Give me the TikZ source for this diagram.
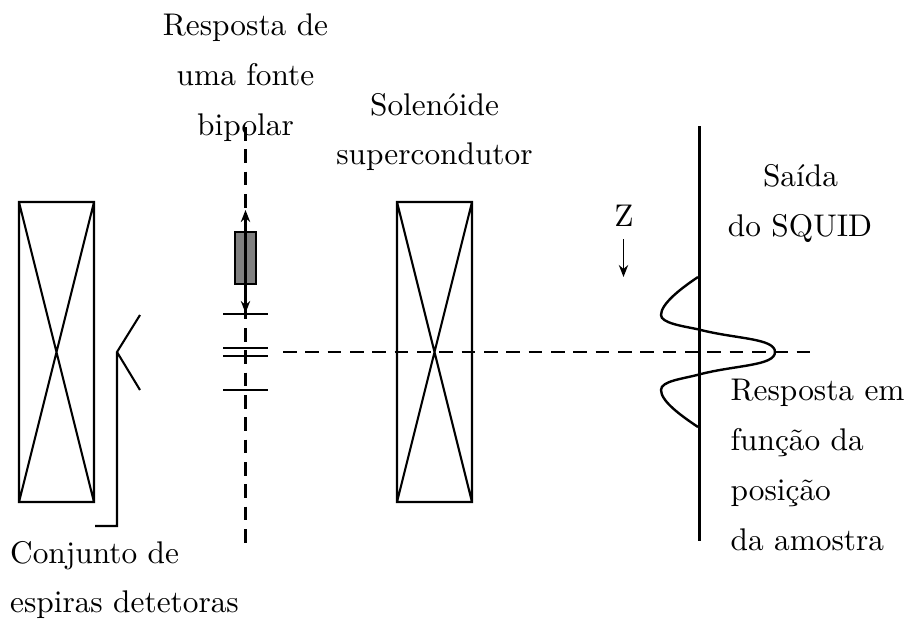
\documentclass[tikz,border=0pt]{standalone}
\usetikzlibrary{arrows.meta}
\tikzset{
  lab/.style={inner sep=0pt,anchor=base,scale=0.94},
  labl/.style={inner sep=0pt,anchor=base west,scale=0.94},
  thin line/.style={line width=0.62pt},
  dashline/.style={line width=0.68pt,dash pattern=on 4.1pt off 2.6pt},
  tip/.style={-{Stealth[length=3.6pt,width=2.8pt]},line width=0.5pt},
  tips/.style={{Stealth[length=3.6pt,width=2.8pt]}-{Stealth[length=3.6pt,width=2.8pt]},line width=0.75pt}
}
\begin{document}
\begin{tikzpicture}[x=0.3pt,y=-0.3pt]
\useasboundingbox (0,0) rectangle (904,620);
% left coil
\coordinate (lnw) at (19,202); \coordinate (lne) at (94,202);
\coordinate (lsw) at (19,502); \coordinate (lse) at (94,502);
\draw[thin line] (lnw) -- (lne) -- (lse) -- (lsw) -- cycle (lnw) -- (lse) (lne) -- (lsw);
% pickup
\coordinate (pa) at (140,315); \coordinate (pb) at (117,352); \coordinate (pc) at (140,390);
\coordinate (pd) at (117,526); \coordinate (pe) at (95,526);
\draw[thin line] (pa) -- (pb) -- (pc) (pb) -- (pd) -- (pe);
% axis
\coordinate (vt) at (245.5,127); \coordinate (vb) at (245.5,543);
\draw[dashline] (vt) -- (vb);
% sample
\node[draw,fill=black!50,line width=0.62pt,minimum width=6.3pt,minimum height=15.6pt,inner sep=0pt] (sample) at (245.5,258) {};
\coordinate (at) at (245.5,210); \coordinate (ab) at (245.5,313);
\draw[tips] (at) -- (ab);
% ticks
\foreach \n/\y in {a/314,b/348,c/356,d/390}{
  \coordinate (t\n l) at (223,\y); \coordinate (t\n r) at (268,\y);
  \draw[thin line] (t\n l) -- (t\n r);
}
% solenoid
\coordinate (snw) at (397,202); \coordinate (sne) at (472,202);
\coordinate (ssw) at (397,502); \coordinate (sse) at (472,502);
\draw[thin line] (snw) -- (sne) -- (sse) -- (ssw) -- cycle (snw) -- (sse) (sne) -- (ssw);
% horizontal axis
\coordinate (hl) at (283,352); \coordinate (hr) at (813,352);
\draw[dashline,line width=0.6pt] (hl) -- (hr);
% output line
\coordinate (ot) at (699.5,126); \coordinate (ob) at (699.5,541);
\draw[line width=0.85pt] (ot) -- (ob);
% Z
\node[lab] (z) at (624,226) {Z};
\coordinate (zt) at (623.5,239); \coordinate (zb) at (623.5,277);
\draw[tip] (zt) -- (zb);
% response curve
\coordinate (c0) at (698,277); \coordinate (c1) at (661,315); \coordinate (c2) at (699,329.5);
\coordinate (c3) at (775,352); \coordinate (c4) at (699,374.5); \coordinate (c5) at (661,390); \coordinate (c6) at (698,427);
\draw[line width=0.72pt] (c0) .. controls (680,289) and (661,304) .. (c1)
  .. controls (661,323) and (682,326) .. (c2)
  .. controls (735,339) and (775,338) .. (c3)
  .. controls (775,366) and (735,365) .. (c4)
  .. controls (682,379) and (661,381) .. (c5)
  .. controls (661,401) and (680,415) .. (c6);
% labels
\node[lab] (l1) at (245.5,35) {Resposta de};
\node[lab] (l2) at (245.5,85) {uma fonte};
\node[lab] (l3) at (245.5,135) {bipolar};
\node[lab] (l4) at (434.5,115) {Solenóide};
\node[lab] (l5) at (434.5,164) {supercondutor};
\node[lab] (l6) at (800.5,186) {Saída};
\node[lab] (l7) at (800,236) {do SQUID};
\node[labl] (l8) at (730,400) {Resposta em};
\node[labl] (l9) at (730,450) {função da};
\node[labl] (l10) at (730,500) {posição};
\node[labl] (l11) at (730,550) {da amostra};
\node[labl] (l12) at (9.5,563.5) {Conjunto de};
\node[labl] (l13) at (9.5,612) {espiras detetoras};
\end{tikzpicture}
\end{document}
